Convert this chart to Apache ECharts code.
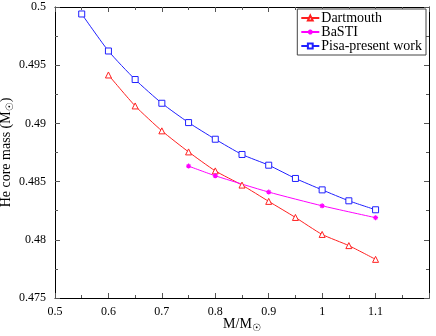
<!DOCTYPE html>
<html>
<head>
<meta charset="utf-8">
<script src="https://cdn.jsdelivr.net/npm/echarts@6/dist/echarts.min.js"></script>
<style>
  html, body { margin: 0; padding: 0; background: #fff; }
  #chart { width: 436px; height: 336px; }
</style>
</head>
<body>
<div id="chart"></div>
<script>
// stellar mass (M/Msun)
var dartX = [0.6, 0.65, 0.7, 0.75, 0.8, 0.85, 0.9, 0.95, 1.0, 1.05, 1.1];
var dartY = [0.49416, 0.4915, 0.48936, 0.48755, 0.48592, 0.4847, 0.4833, 0.48192, 0.48046, 0.4795, 0.47832];

var bastiX = [0.75, 0.8, 0.9, 1.0, 1.1];
var bastiY = [0.48633, 0.4855, 0.4841, 0.48292, 0.4819];

var pisaX = [0.55, 0.6, 0.65, 0.7, 0.75, 0.8, 0.85, 0.9, 0.95, 1.0, 1.05, 1.1];
var pisaY = [0.4994, 0.49622, 0.49377, 0.49173, 0.49007, 0.48864, 0.48733, 0.48641, 0.48527, 0.48429, 0.48335, 0.48258];

var seriesNames = ["Dartmouth", "BaSTI", "Pisa-present work"];

function pairs(xs, ys) {
  return xs.map(function (x, i) { return [x, ys[i]]; });
}

var font = "'Liberation Serif', 'DejaVu Serif', serif";
var star = "path://M0,4L8,4M4,0L4,8M1.2,1.2L6.8,6.8M6.8,1.2L1.2,6.8";

var myCharts = echarts.init(document.getElementById("chart"));

function axisCommon(extra) {
  var a = {
    nameMoveOverlap: false,
    axisLine: { show: true, onZero: false, lineStyle: { color: "#000", width: 1 } },
    axisTick: { show: true, inside: true, length: 5, lineStyle: { color: "#555" } },
    minorTick: { show: true, splitNumber: 2, length: 3, lineStyle: { color: "#555" } },
    splitLine: { show: false },
    axisLabel: { color: "#000", fontFamily: font, fontSize: 12 }
  };
  for (var k in extra) a[k] = extra[k];
  return a;
}

var subStyle = { fontSize: 10, verticalAlign: "bottom", padding: [8, 0, 0, 0], fontFamily: "DejaVu Sans" };

myCharts.setOption({
  animation: false,
  textStyle: { fontFamily: font },
  grid: { left: 55, right: 7, top: 7, bottom: 38, containLabel: false, outerBoundsMode: "none" },
  legend: {
    orient: "vertical",
    right: 10,
    top: 9,
    backgroundColor: "#fff",
    borderColor: "#444",
    borderWidth: 1,
    borderRadius: 0,
    padding: [2, 4, 2, 3],
    itemGap: 0,
    itemWidth: 18,
    itemHeight: 6,
    textStyle: { color: "#000", fontFamily: font, fontSize: 14, lineHeight: 13, padding: [0, 0, 0, -3] },
    data: seriesNames
  },
  xAxis: [
    axisCommon({
      type: "value",
      min: 0.5,
      max: 1.2,
      interval: 0.1,
      name: "M/M{sub|☉}",
      nameLocation: "middle",
      nameGap: 17,
      nameTextStyle: { color: "#000", fontFamily: font, fontSize: 14, rich: { sub: subStyle } },
      axisLabel: {
        color: "#000", fontFamily: font, fontSize: 12, margin: 8,
        formatter: function (v) { return Math.abs(v - 1.2) < 1e-6 ? "" : String(+v.toFixed(2)); }
      }
    }),
    axisCommon({
      type: "value",
      position: "top",
      min: 0.5,
      max: 1.2,
      interval: 0.1,
      axisLabel: { show: false }
    })
  ],
  yAxis: [
    axisCommon({
      type: "value",
      min: 0.475,
      max: 0.5,
      interval: 0.005,
      name: "He core mass (M{sub|☉})",
      nameLocation: "middle",
      nameGap: 40,
      nameTextStyle: { color: "#000", fontFamily: font, fontSize: 14, rich: { sub: subStyle } },
      axisLabel: {
        color: "#000", fontFamily: font, fontSize: 12, margin: 9,
        formatter: function (v) { return String(+v.toFixed(4)); }
      }
    }),
    axisCommon({
      type: "value",
      position: "right",
      min: 0.475,
      max: 0.5,
      interval: 0.005,
      axisLabel: { show: false }
    })
  ],
  series: [
    {
      name: seriesNames[0],
      type: "line",
      data: pairs(dartX, dartY),
      smooth: 0.2,
      symbol: "triangle",
      symbolSize: 6,
      lineStyle: { color: "#ff2020", width: 1 },
      itemStyle: { color: "#fff", borderColor: "#ff2020", borderWidth: 1 }
    },
    {
      name: seriesNames[1],
      type: "line",
      data: pairs(bastiX, bastiY),
      smooth: 0.2,
      symbol: star,
      symbolSize: 5,
      lineStyle: { color: "#ff00ff", width: 1 },
      itemStyle: { color: "#ff00ff", borderColor: "#ff00ff", borderWidth: 1.2 }
    },
    {
      name: seriesNames[2],
      type: "line",
      data: pairs(pisaX, pisaY),
      smooth: 0.2,
      symbol: "rect",
      symbolSize: 6,
      lineStyle: { color: "#2020ff", width: 1 },
      itemStyle: { color: "#fff", borderColor: "#2020ff", borderWidth: 1 }
    }
  ]
});
</script>
</body>
</html>
